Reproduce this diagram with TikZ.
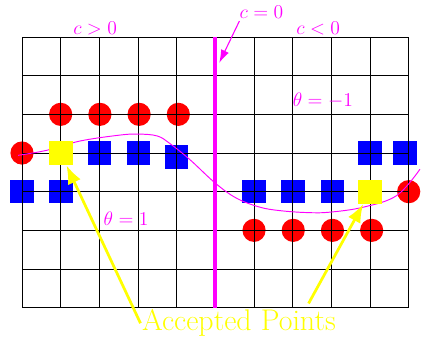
\documentclass[tikz,border=0pt]{standalone}
\usepackage{amsmath,amssymb}
\usepackage{xcolor}
\usepackage{tikz}
\usetikzlibrary{arrows.meta,calc,positioning}
\definecolor{accept}{RGB}{255,255,0}
\definecolor{boundary}{RGB}{255,0,255}

\begin{document}
\begin{tikzpicture}[
  font=\Large,
  redpt/.style={circle, fill=red, minimum size=0.6cm, inner sep=0pt},
  bluept/.style={fill=blue, minimum size=0.61cm, inner sep=0pt},
  accpt/.style={fill=accept, minimum size=0.62cm, inner sep=0pt},
  lbl/.style={text=boundary},
  arr/.style={-{Latex[length=3.4mm,width=2.2mm]}, boundary, line width=0.8pt},
  yarr/.style={-{Latex[length=4.8mm,width=3.6mm]}, accept, line width=2pt}
]
\useasboundingbox (-0.569,-0.81) rectangle (10.344,7.957);
% samples, drawn under the grid
\node[redpt] (r1) at (1,5) {};
\node[redpt, right=0.4cm of r1] (r2) {};
\node[redpt, right=0.4cm of r2] (r3) {};
\node[redpt, right=0.4cm of r3] (r4) {};
\node[redpt] (r0) at (0,4) {};
\node[bluept] (b1) at (2,4) {};
\node[bluept, right=0.39cm of b1] (b2) {};
\node[bluept] (b3) at (4,3.9) {};
\node[bluept] (b4) at (9,4) {};
\node[bluept] (b5) at (9.9,4) {};
\node[bluept] (b6) at (0,3) {};
\node[bluept, right=0.39cm of b6] (b7) {};
\node[bluept] (b8) at (6,3) {};
\node[bluept, right=0.39cm of b8] (b9) {};
\node[bluept, right=0.39cm of b9] (b10) {};
\node[redpt] (r5) at (10,3) {};
\node[redpt] (r6) at (6,2) {};
\node[redpt, right=0.4cm of r6] (r7) {};
\node[redpt, right=0.4cm of r7] (r8) {};
\node[redpt, right=0.4cm of r8] (r9) {};
% grid and boundary
\draw[line width=0.6pt] (0,0) grid (10,7);
\coordinate (c0bot) at (5,0);
\coordinate (c0top) at (5,7);
\draw[boundary, line width=3pt] (c0bot) -- (c0top);
\draw[boundary, line width=0.7pt] plot[smooth, tension=0.6] coordinates {(-0.1,3.94) (0.64,4.07) (1.5,4.31) (2.5,4.46) (3.0,4.49) (3.5,4.44) (3.83,4.24) (4.34,3.83) (5.0,3.22) (5.55,2.83) (6.15,2.6) (6.67,2.51) (7.36,2.46) (7.96,2.47) (8.83,2.6) (9.69,2.9) (10.29,3.58)};
\node[accpt] (acc1) at (1,4) {};
\node[accpt] (acc2) at (9,3) {};
% labels
\node[lbl] (cpos) at (1.89,7.23) {$c>0$};
\node[lbl] (czero) at (6.19,7.63) {$c=0$};
\node[lbl] (cneg) at (7.66,7.22) {$c<0$};
\node[lbl] (thneg) at (7.78,5.37) {$\theta=-1$};
\node[lbl] (thpos) at (2.69,2.31) {$\theta=1$};
\node[text=accept, font=\fontsize{22}{26}\selectfont, inner sep=1pt, anchor=base] (AP) at (5.61,-0.6) {Accepted Points};
\coordinate (c0tip) at (5.1,6.33);
\draw[arr] ($(czero.south west)+(0.12,0.07)$) -- (c0tip);
\draw[yarr] (AP.west) -- (acc1);
\draw[yarr] ($(AP.north)+(1.8,0.12)$) -- (acc2);
\end{tikzpicture}
\end{document}
